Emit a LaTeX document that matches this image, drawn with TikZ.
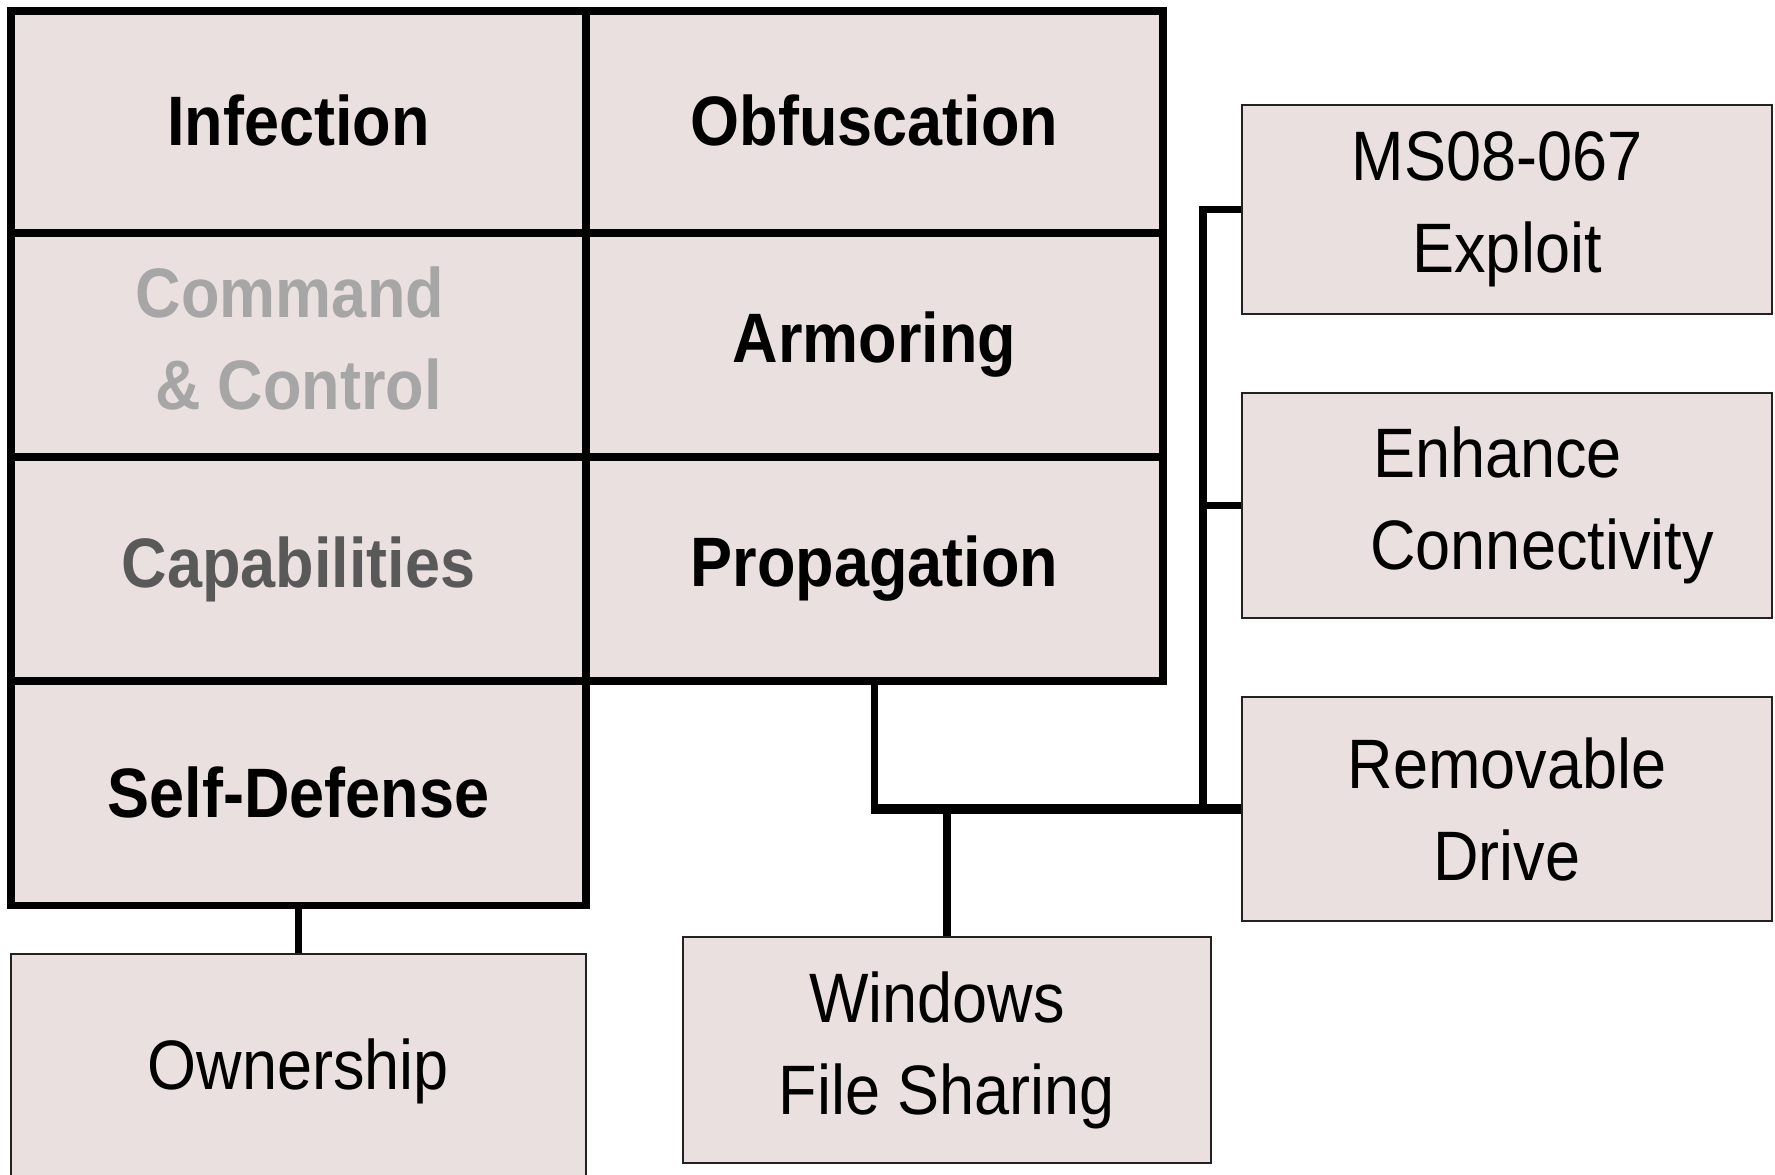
\documentclass[tikz,border=0pt]{standalone}
\usepackage{fontspec}
\setmainfont{Liberation Sans}[FakeStretch=0.9]
\definecolor{cellfill}{HTML}{EBE0E0}
\definecolor{lightgraytext}{HTML}{A6A6A6}
\definecolor{darkgraytext}{HTML}{595959}
\definecolor{thinedge}{HTML}{222222}
\tikzset{
  cell/.style={draw=black, line width=7.3pt, fill=cellfill, inner sep=0pt,
    minimum width=575pt, minimum height=224pt, align=center,
    font=\fontsize{70pt}{92pt}\selectfont\bfseries},
  leaf/.style={draw=thinedge, line width=2.8pt, fill=cellfill, inner sep=0pt,
    minimum width=530pt, minimum height=224pt, align=center,
    font=\fontsize{70pt}{92pt}\selectfont},
  link/.style={draw=black, line width=7.3pt},
  trunk/.style={draw=black, line width=10pt}
}
\begin{document}
\begin{tikzpicture}[x=1pt,y=-1pt]
  \clip (0,0) rectangle (1775,1175);
  \fill[white] (0,0) rectangle (1775,1175);

  \coordinate (bus) at (1203,0);

  % left column of the grid
  \node[cell, minimum height=222pt] (inf) at (298.5,122) {\raisebox{3pt}{Infection}};
  \node[cell, text=lightgraytext] (cc) at (298.5,345) {\raisebox{-1.5pt}{\begin{tabular}{@{}c@{}}Command\hspace*{17pt}\\\& Control\end{tabular}}};
  \node[cell, text=darkgraytext] (cap) at (298.5,569) {\raisebox{3pt}{Capabilities}};
  \node[cell] (sd) at (298.5,793.5) {\raisebox{3pt}{Self-Defense}};

  % right column of the grid
  \node[cell, minimum width=577pt, minimum height=222pt] (obf) at (874.5,122) {\raisebox{3pt}{Obfuscation}};
  \node[cell, minimum width=577pt] (arm) at (874.5,345) {Armoring};
  \node[cell, minimum width=577pt] (prop) at (874.5,569) {\raisebox{3pt}{Propagation}};

  % leaf boxes
  \node[leaf, minimum width=575pt, minimum height=234pt] (own) at (298.5,1071) {Ownership};
  \node[leaf, minimum height=209pt] (ms) at (1507,209.5) {MS08-067\hspace*{20pt}\\Exploit};
  \node[leaf, minimum height=225pt] (enh) at (1507,505.5) {Enhance\hspace*{19pt}\\\hspace*{70pt}Connectivity};
  \node[leaf] (rem) at (1507,809) {Removable\\Drive};
  \node[leaf, minimum width=528pt, minimum height=226pt] (win) at (947,1050) {Windows\hspace*{20pt}\\File Sharing};

  % tree connectors
  \draw[link] (sd.south) -- (own.north);
  \draw[link] (prop.south) -- (prop.south |- rem.west);
  \draw[trunk] ([xshift=-3.65pt]prop.south |- rem.west) -- (rem.west);
  \draw[link] (win.north) -- (win.north |- rem.west);
  \draw[link] (ms.west) -- (ms.west -| bus) -- (bus |- rem.west);
  \draw[link] (enh.west) -- (enh.west -| bus);
\end{tikzpicture}
\end{document}
